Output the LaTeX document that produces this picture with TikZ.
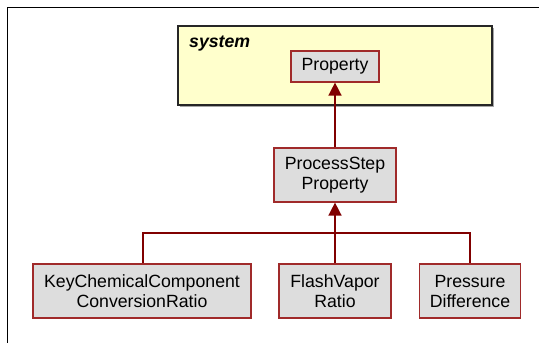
\documentclass[tikz,border=0pt]{standalone}
\usepackage{fontspec}
\setmainfont{Liberation Sans}
\usetikzlibrary{arrows.meta}
\definecolor{boxfill}{HTML}{DDDDDD}
\definecolor{boxline}{HTML}{A02A2A}
\definecolor{conn}{HTML}{800000}
\definecolor{pkgfill}{HTML}{FFFFCC}
\begin{document}
\begin{tikzpicture}[x=1pt,y=-1pt,
  cls/.style={draw=boxline, fill=boxfill, line width=1.2pt, inner sep=0pt, align=center,
    font=\fontsize{17.7}{20}\selectfont},
  conline/.style={draw=conn, line width=1.5pt},
  inh/.style={conline, -{Triangle[width=13pt,length=13pt]}}]
\useasboundingbox (0,0) rectangle (539,343);
\fill[white] (0,0) rectangle (539,343);
\draw[black, line width=1pt] (7,343) -- (7,7) -- (539,7);
% package
\fill[gray!70] (180,28) rectangle (494,107);
\draw[draw=black!85, fill=pkgfill, line width=1.2pt] (178,26) rectangle (492,105);
\node[anchor=base west, inner sep=0pt, font=\fontsize{17.7}{20}\selectfont\bfseries\itshape] (sysl) at (189,47) {system};
% classes
\node[cls, minimum width=88pt, minimum height=31pt] (prop) at (335,66.5) {Property};
\node[cls, minimum width=122pt, minimum height=54pt] (pstep) at (335,175) {ProcessStep\\Property};
\node[cls, minimum width=218pt, minimum height=54pt] (kc) at (142,291) {KeyChemicalComponent\\ConversionRatio};
\node[cls, minimum width=112pt, minimum height=54pt] (fv) at (335,291) {FlashVapor\\Ratio};
\node[cls, minimum width=101pt, minimum height=54pt] (pd) at (470,291) {Pressure\\Difference};
% connectors
\draw[inh] (pstep.north) -- (prop.south);
\coordinate (jl) at (143,233);
\coordinate (jr) at (470,233);
\draw[conline] (kc.north -| jl) -- (jl) -- (jr) -- (pd.north);
\draw[inh] (fv.north) -- (pstep.south);
\end{tikzpicture}
\end{document}
